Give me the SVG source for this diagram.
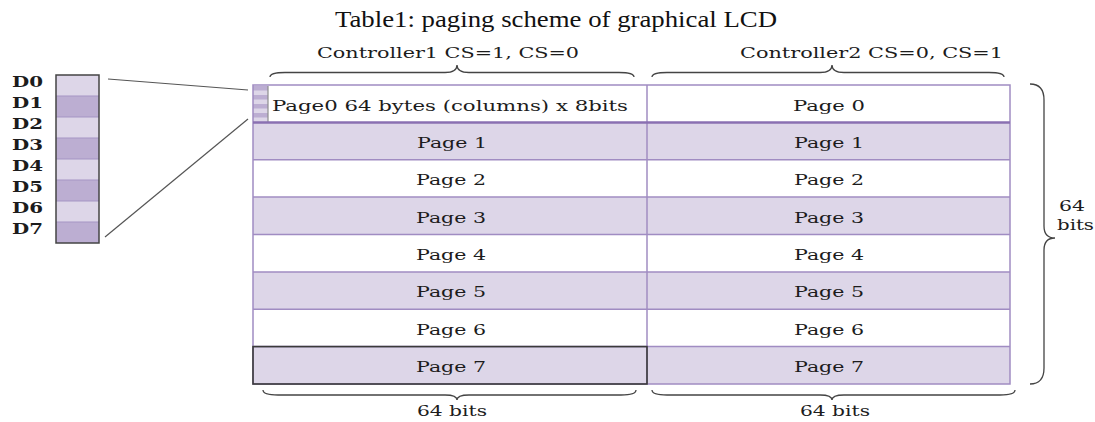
<svg xmlns="http://www.w3.org/2000/svg" width="1095" height="422" viewBox="0 0 1095 422">
  <style>
    .t { font-family: "DejaVu Serif", "Liberation Serif", serif; font-size: 14.5px; fill: #1c1c1c; }
    .d { font-family: "DejaVu Serif", "Liberation Serif", serif; font-size: 15px; font-weight: bold; fill: #1c1c1c; }
    .title { font-family: "Liberation Serif", serif; font-size: 23.5px; fill: #111; }
    .lt { fill: #ddd6e8; }
    .dk { fill: #bcaed2; }
    .wh { fill: #ffffff; }
    .grid { stroke: #a08cc2; stroke-width: 1.5; fill: none; }
    .brace { stroke: #444; stroke-width: 1.3; fill: none; }
    .zoomline { stroke: #555; stroke-width: 1.2; fill: none; }
  </style>
  <rect width="1095" height="422" fill="#ffffff"/>

  <g id="title">
    <text class="title" x="335" y="27" textLength="442" lengthAdjust="spacingAndGlyphs">Table1: paging scheme of graphical LCD</text>
  </g>

  <g id="controller1-label">
    <text class="t" x="317" y="58" textLength="262" lengthAdjust="spacingAndGlyphs">Controller1 CS=1, CS=0</text>
  </g>
  <g id="controller2-label">
    <text class="t" x="740" y="58" textLength="263" lengthAdjust="spacingAndGlyphs">Controller2 CS=0, CS=1</text>
  </g>

  <g id="data-bits">
    <rect class="lt" x="56" y="75" width="43" height="21"/>
    <rect class="dk" x="56" y="96" width="43" height="21"/>
    <rect class="lt" x="56" y="117" width="43" height="21"/>
    <rect class="dk" x="56" y="138" width="43" height="21"/>
    <rect class="lt" x="56" y="159" width="43" height="21"/>
    <rect class="dk" x="56" y="180" width="43" height="21"/>
    <rect class="lt" x="56" y="201" width="43" height="21"/>
    <rect class="dk" x="56" y="222" width="43" height="21"/>
    <g stroke="#a595c4" stroke-width="1">
      <line x1="56" y1="96" x2="99" y2="96"/>
      <line x1="56" y1="117" x2="99" y2="117"/>
      <line x1="56" y1="138" x2="99" y2="138"/>
      <line x1="56" y1="159" x2="99" y2="159"/>
      <line x1="56" y1="180" x2="99" y2="180"/>
      <line x1="56" y1="201" x2="99" y2="201"/>
      <line x1="56" y1="222" x2="99" y2="222"/>
    </g>
    <rect x="56" y="75" width="43" height="168" fill="none" stroke="#444" stroke-width="1.5"/>
    <text class="d" x="12" y="87" textLength="31" lengthAdjust="spacingAndGlyphs">D0</text>
    <text class="d" x="12" y="108" textLength="31" lengthAdjust="spacingAndGlyphs">D1</text>
    <text class="d" x="12" y="129" textLength="31" lengthAdjust="spacingAndGlyphs">D2</text>
    <text class="d" x="12" y="150" textLength="31" lengthAdjust="spacingAndGlyphs">D3</text>
    <text class="d" x="12" y="171" textLength="31" lengthAdjust="spacingAndGlyphs">D4</text>
    <text class="d" x="12" y="192" textLength="31" lengthAdjust="spacingAndGlyphs">D5</text>
    <text class="d" x="12" y="213" textLength="31" lengthAdjust="spacingAndGlyphs">D6</text>
    <text class="d" x="12" y="234" textLength="31" lengthAdjust="spacingAndGlyphs">D7</text>
  </g>

  <g id="page-table">
    <rect class="wh" x="253" y="85" width="757" height="37.4"/>
    <rect class="lt" x="253" y="122.4" width="757" height="37.4"/>
    <rect class="wh" x="253" y="159.8" width="757" height="37.4"/>
    <rect class="lt" x="253" y="197.1" width="757" height="37.4"/>
    <rect class="wh" x="253" y="234.5" width="757" height="37.4"/>
    <rect class="lt" x="253" y="271.9" width="757" height="37.4"/>
    <rect class="wh" x="253" y="309.3" width="757" height="37.4"/>
    <rect class="lt" x="253" y="346.6" width="757" height="37.4"/>

    <g id="page0-stripe">
      <rect x="253" y="86" width="15" height="36.4" fill="#ddd6e8"/>
      <rect x="253" y="86" width="15" height="4.5" fill="#bcaed2"/>
      <rect x="253" y="95" width="15" height="4.5" fill="#bcaed2"/>
      <rect x="253" y="104" width="15" height="4.5" fill="#bcaed2"/>
      <rect x="253" y="113" width="15" height="4.5" fill="#bcaed2"/>
      <line x1="268" y1="86" x2="268" y2="122" stroke="#8d8d8d" stroke-width="1.2"/>
    </g>

    <g class="grid">
      <line x1="253" y1="159.8" x2="1010" y2="159.8"/>
      <line x1="253" y1="197.1" x2="1010" y2="197.1"/>
      <line x1="253" y1="234.5" x2="1010" y2="234.5"/>
      <line x1="253" y1="271.9" x2="1010" y2="271.9"/>
      <line x1="253" y1="309.3" x2="1010" y2="309.3"/>
      <line x1="253" y1="346.6" x2="1010" y2="346.6"/>
      <rect x="253" y="85" width="757" height="299"/>
      <line x1="647" y1="85" x2="647" y2="384"/>
    </g>
    <line x1="253" y1="122.4" x2="1010" y2="122.4" stroke="#8a70b2" stroke-width="2.5"/>
    <rect x="253" y="346.6" width="394" height="37.4" fill="none" stroke="#3a3a3a" stroke-width="1.6"/>

    <text class="t" x="272" y="110.5" textLength="356" lengthAdjust="spacingAndGlyphs">Page0 64 bytes (columns) x 8bits</text>
    <g text-anchor="middle">
      <text class="t" x="452" y="147.9" textLength="70" lengthAdjust="spacingAndGlyphs">Page 1</text>
      <text class="t" x="451" y="185.3" textLength="70" lengthAdjust="spacingAndGlyphs">Page 2</text>
      <text class="t" x="451" y="222.6" textLength="70" lengthAdjust="spacingAndGlyphs">Page 3</text>
      <text class="t" x="451" y="260" textLength="70" lengthAdjust="spacingAndGlyphs">Page 4</text>
      <text class="t" x="451" y="297.4" textLength="70" lengthAdjust="spacingAndGlyphs">Page 5</text>
      <text class="t" x="451" y="334.8" textLength="70" lengthAdjust="spacingAndGlyphs">Page 6</text>
      <text class="t" x="451" y="372.1" textLength="70" lengthAdjust="spacingAndGlyphs">Page 7</text>
      <text class="t" x="829" y="110.5" textLength="72" lengthAdjust="spacingAndGlyphs">Page 0</text>
      <text class="t" x="829" y="147.9" textLength="70" lengthAdjust="spacingAndGlyphs">Page 1</text>
      <text class="t" x="829" y="185.3" textLength="70" lengthAdjust="spacingAndGlyphs">Page 2</text>
      <text class="t" x="829" y="222.6" textLength="70" lengthAdjust="spacingAndGlyphs">Page 3</text>
      <text class="t" x="829" y="260" textLength="70" lengthAdjust="spacingAndGlyphs">Page 4</text>
      <text class="t" x="829" y="297.4" textLength="70" lengthAdjust="spacingAndGlyphs">Page 5</text>
      <text class="t" x="829" y="334.8" textLength="70" lengthAdjust="spacingAndGlyphs">Page 6</text>
      <text class="t" x="829" y="372.1" textLength="70" lengthAdjust="spacingAndGlyphs">Page 7</text>
    </g>
  </g>

  <g id="width-label-left">
    <text class="t" x="452" y="416" text-anchor="middle" textLength="70" lengthAdjust="spacingAndGlyphs">64 bits</text>
  </g>
  <g id="width-label-right">
    <text class="t" x="835" y="416" text-anchor="middle" textLength="70" lengthAdjust="spacingAndGlyphs">64 bits</text>
  </g>
  <g id="height-label">
    <text class="t" x="1059" y="211" textLength="26" lengthAdjust="spacingAndGlyphs">64</text>
    <text class="t" x="1057" y="230" textLength="37" lengthAdjust="spacingAndGlyphs">bits</text>
  </g>

  <g id="connectors">
    <line class="zoomline" x1="108" y1="79" x2="248" y2="90"/>
    <line class="zoomline" x1="105" y1="237" x2="248" y2="119"/>
    <path class="brace" d="M270,77 Q270,72.5 285,72.5 L445,72.5 Q457,72.5 457,65 Q457,72.5 469,72.5 L619,72.5 Q634,72.5 634,77"/>
    <path class="brace" d="M652,77 Q652,72.5 667,72.5 L820,72.5 Q832,72.5 832,65 Q832,72.5 844,72.5 L989,72.5 Q1004,72.5 1004,77"/>
    <path class="brace" d="M263,390 Q263,395 278,395 L445,395 Q457,395 457,400 Q457,395 469,395 L621,395 Q636,395 636,390"/>
    <path class="brace" d="M652,390 Q652,395 667,395 L820,395 Q832,395 832,400 Q832,395 844,395 L1000,395 Q1015,395 1015,390"/>
    <path class="brace" d="M1030,84 Q1044,84 1044,100 L1044,226 Q1044,238 1055,238 Q1044,238 1044,250 L1044,368 Q1044,384 1030,384"/>
  </g>
</svg>
